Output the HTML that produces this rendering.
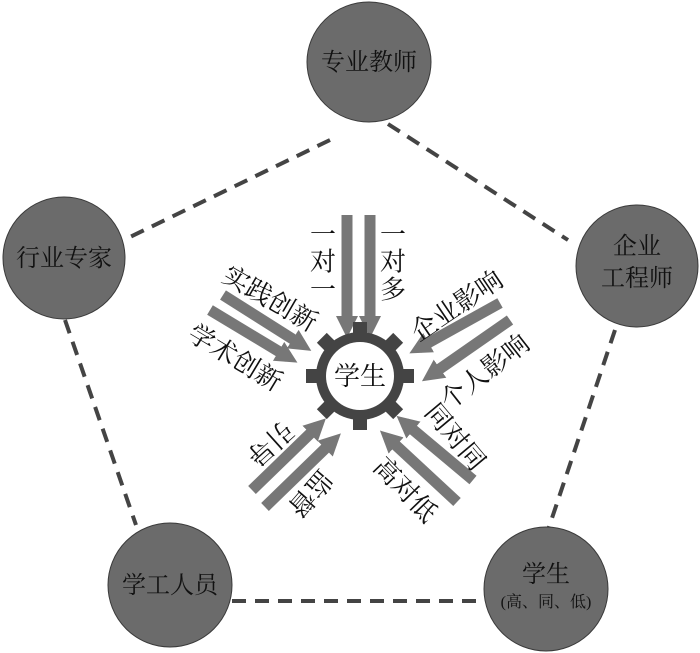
<!DOCTYPE html>
<html><head><meta charset="utf-8"><style>
html,body{margin:0;padding:0;background:#fff;}
svg{display:block;}
text{font-family:"Liberation Serif","Noto Serif CJK SC","Noto Sans CJK SC",serif;fill:#111;}
</style></head><body>
<svg width="700" height="653" viewBox="0 0 700 653" xmlns="http://www.w3.org/2000/svg">
<defs>
<marker id="ah" viewBox="0 0 10 10" refX="5" refY="5" markerWidth="2" markerHeight="2" orient="auto">
<path d="M0,0 L10,5 L0,10 z" fill="#777"/>
</marker>
</defs>
<g stroke="#444" stroke-width="4" stroke-dasharray="14,9" fill="none">
<line x1="330" y1="140" x2="130" y2="237"/>
<line x1="388" y1="124" x2="568" y2="240"/>
<line x1="65" y1="320" x2="136" y2="525"/>
<line x1="615" y1="330" x2="548" y2="530"/>
<line x1="232" y1="601" x2="484" y2="601"/>
</g>
<g fill="#6b6b6b" stroke="#3a3a3a" stroke-width="1">
<ellipse cx="369" cy="62" rx="62" ry="60"/>
<ellipse cx="64" cy="258" rx="61" ry="61"/>
<ellipse cx="637" cy="266" rx="61" ry="61"/>
<ellipse cx="170" cy="585" rx="62" ry="62"/>
<ellipse cx="546" cy="589" rx="62" ry="62"/>
</g>
<g font-size="24" text-anchor="middle">
<text x="369" y="70">专业教师</text>
<text x="64" y="266">行业专家</text>
<text x="637" y="254">企业</text>
<text x="637" y="286">工程师</text>
<text x="170" y="593">学工人员</text>
<text x="546" y="582">学生</text>
<text x="546" y="607" font-size="16">(高、同、低)</text>
</g>
<g stroke="#777" stroke-width="11" marker-end="url(#ah)" fill="none">
<line x1="347" y1="215" x2="347" y2="327"/>
<line x1="370" y1="215" x2="370" y2="327"/>
<line x1="223" y1="295" x2="302" y2="345"/>
<line x1="210" y1="310" x2="288" y2="357"/>
<line x1="500" y1="303" x2="419" y2="348"/>
<line x1="510" y1="320" x2="431" y2="375"/>
<line x1="252" y1="490" x2="318" y2="426"/>
<line x1="265" y1="507" x2="333" y2="441"/>
<line x1="473" y1="480" x2="405" y2="423"/>
<line x1="457" y1="502" x2="388" y2="438"/>
</g>
<g transform="translate(360,376)" fill="#444">
<circle r="44"/>
<g id="t"><rect x="-7" y="-54" width="14" height="16"/></g>
<use href="#t" transform="rotate(45)"/><use href="#t" transform="rotate(90)"/>
<use href="#t" transform="rotate(135)"/><use href="#t" transform="rotate(180)"/>
<use href="#t" transform="rotate(225)"/><use href="#t" transform="rotate(270)"/>
<use href="#t" transform="rotate(315)"/>
<circle r="34" fill="#fff"/>
</g>
<text x="360" y="385" font-size="26" text-anchor="middle">学生</text>
<g font-size="26" text-anchor="middle" dominant-baseline="central">
<text x="323" y="235">一</text><text x="323" y="262">对</text><text x="323" y="290">一</text>
<text x="393" y="235">一</text><text x="393" y="262">对</text><text x="393" y="290">多</text>
<text transform="translate(270,299) rotate(30)">实践创新</text>
<text transform="translate(235,358) rotate(31)">学术创新</text>
<text transform="translate(457,306) rotate(-34)">企业影响</text>
<text transform="translate(485,372) rotate(-38)">个人影响</text>
<text transform="translate(270,443) rotate(138)">引导</text>
<text transform="translate(310,493) rotate(131)">监督</text>
<text transform="translate(455,437) rotate(50)">同对同</text>
<text transform="translate(405,490) rotate(46)">高对低</text>
</g>
</svg>
</body></html>
